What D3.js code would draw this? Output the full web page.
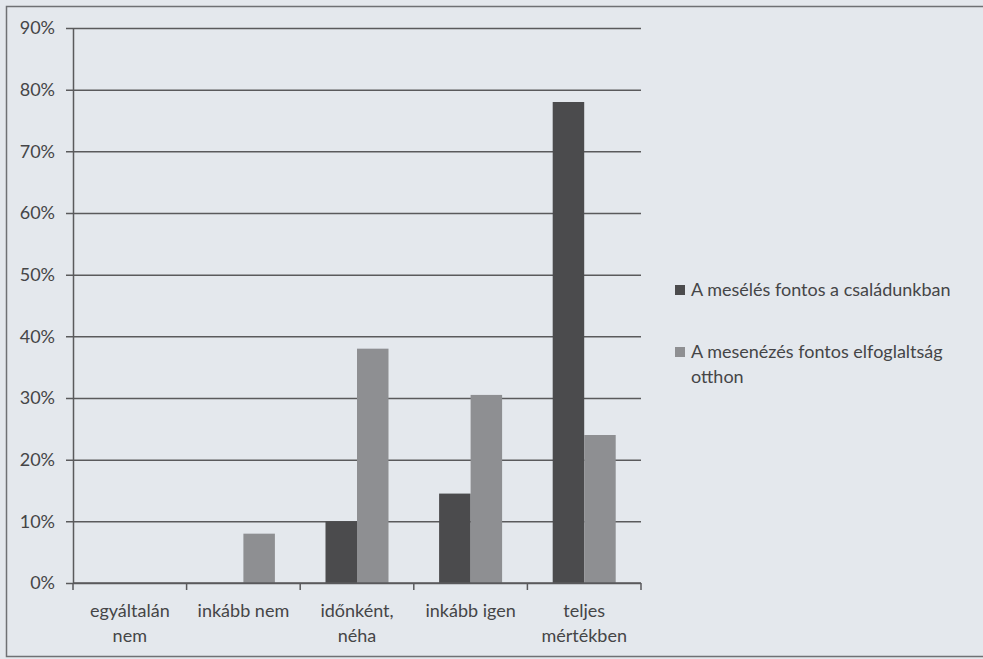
<!DOCTYPE html>
<html>
<head>
<meta charset="utf-8">
<script src="https://cdn.jsdelivr.net/npm/d3@7"></script>
<style>
  html, body { margin: 0; padding: 0; background: #e4e8ed; }
  svg { display: block; font-family: Lato, "Open Sans", sans-serif; }
</style>
</head>
<body>
<script>
"use strict";

const categories = [
    ["egyáltalán", "nem"],
    ["inkább nem"],
    ["időnként,", "néha"],
    ["inkább igen"],
    ["teljes", "mértékben"]
];
const seriesNames = [
    ["A mesélés fontos a családunkban"],
    ["A mesenézés fontos elfoglaltság", "otthon"]
];
const storytelling = [0, 0, 10, 14.5, 78];
const cartoonWatching = [0, 8, 38, 30.5, 24];
const yTicks = [0, 10, 20, 30, 40, 50, 60, 70, 80, 90];

const COLORS = { dark: "#4b4b4d", light: "#8e8f92", grid: "#5a5a5c", text: "#454547" };
const FONT_SIZE = 18;

const width = 983;
const height = 659;
const plot = { left: 73, right: 641, top: 28, bottom: 583 };

const svg = d3.select("body").append("svg")
    .attr("width", width)
    .attr("height", height);

// outer frame of the scanned chart
svg.append("rect")
    .attr("x", 6.5).attr("y", 6.5)
    .attr("width", 1000).attr("height", 650)
    .attr("fill", "none")
    .attr("stroke", "#6f7174")
    .attr("stroke-width", 1.5);

const x = d3.scaleBand()
    .domain(d3.range(categories.length))
    .range([plot.left, plot.right]);

const x1 = d3.scaleBand()
    .domain([0, 1])
    .range([0, 63])
    .padding(0);

const y = d3.scaleLinear().domain([0, 90]).range([plot.bottom, plot.top]);

// gridlines + y axis
const yAxis = d3.axisLeft(y)
    .tickValues(yTicks)
    .tickFormat((d) => `${d}%`)
    .tickSize(-(plot.right - plot.left))
    .tickSizeOuter(0)
    .tickPadding(18);
const yG = svg.append("g")
    .attr("transform", `translate(${plot.left},0)`)
    .call(yAxis);
yG.select(".domain").attr("stroke", COLORS.grid).attr("stroke-width", 1.5);
yG.selectAll(".tick line")
    .attr("x1", -7)
    .attr("stroke", COLORS.grid)
    .attr("stroke-width", 1.5);
yG.selectAll(".tick text")
    .attr("fill", COLORS.text)
    .attr("font-size", FONT_SIZE)
    .attr("font-family", "Lato, sans-serif");

// bars
const groups = svg.append("g")
    .selectAll("g")
    .data(categories.map((c, i) => [storytelling[i], cartoonWatching[i]]))
    .join("g")
    .attr("transform", (d, i) => `translate(${x(i) + (x.bandwidth() - 63) / 2},0)`);

groups.selectAll("rect")
    .data((d) => d)
    .join("rect")
    .attr("x", (d, j) => x1(j))
    .attr("y", (d) => y(d))
    .attr("width", x1.bandwidth())
    .attr("height", (d) => y(0) - y(d))
    .attr("fill", (d, j) => (j === 0 ? COLORS.dark : COLORS.light));

// x axis line with category ticks
const xG = svg.append("g").attr("transform", `translate(0,${plot.bottom})`);
xG.append("line")
    .attr("x1", plot.left).attr("x2", plot.right)
    .attr("stroke", COLORS.grid).attr("stroke-width", 1.5);
xG.selectAll("line.tick")
    .data(d3.range(categories.length + 1))
    .join("line")
    .attr("class", "tick")
    .attr("x1", (i) => plot.left + i * x.step())
    .attr("x2", (i) => plot.left + i * x.step())
    .attr("y1", 0).attr("y2", 7)
    .attr("stroke", COLORS.grid).attr("stroke-width", 1.5);

xG.selectAll("text")
    .data(categories)
    .join("text")
    .attr("x", (d, i) => x(i) + x.bandwidth() / 2)
    .attr("y", 34)
    .attr("text-anchor", "middle")
    .attr("fill", COLORS.text)
    .attr("font-size", FONT_SIZE)
    .selectAll("tspan")
    .data((d) => d)
    .join("tspan")
    .attr("x", function() { return this.parentNode.getAttribute("x"); })
    .attr("dy", (d, k) => (k === 0 ? 0 : 25))
    .text((d) => d);

// legend
const legend = svg.append("g").attr("transform", "translate(675,285)");
const item = legend.selectAll("g")
    .data(seriesNames)
    .join("g")
    .attr("transform", (d, i) => `translate(0,${i * 62})`);
item.append("rect")
    .attr("width", 10).attr("height", 10)
    .attr("fill", (d, i) => (i === 0 ? COLORS.dark : COLORS.light));
item.append("text")
    .attr("x", 16)
    .attr("y", 11)
    .attr("fill", COLORS.text)
    .attr("font-size", FONT_SIZE)
    .selectAll("tspan")
    .data((d) => d)
    .join("tspan")
    .attr("x", 16)
    .attr("dy", (d, k) => (k === 0 ? 0 : 25))
    .text((d) => d);
</script>
</body>
</html>
